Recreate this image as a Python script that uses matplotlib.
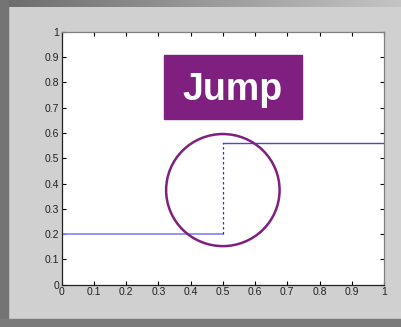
#!/usr/bin/env python3
import numpy as np
import matplotlib
matplotlib.use("Agg")
import matplotlib.pyplot as plt
from matplotlib.patches import Rectangle, Ellipse

# step data
jump_x = 0.5
low_x = [0.0, 0.5]
low_y = [0.2, 0.2]
high_x = [0.5, 1.0]
high_y = [0.56, 0.56]

# annotation box + circle around the jump
label = "Jump"
box_x, box_y, box_w, box_h = 0.317, 0.655, 0.428, 0.253
circle_center = (0.5, 0.374)
circle_size = (0.352, 0.443)

ticks = [0, 0.1, 0.2, 0.3, 0.4, 0.5, 0.6, 0.7, 0.8, 0.9, 1]
tick_labels = ["0", "0.1", "0.2", "0.3", "0.4", "0.5", "0.6", "0.7", "0.8", "0.9", "1"]

PURPLE = "#7f1f80"
W, H = 401, 327

plt.rcParams['font.family'] = ['Liberation Sans', 'DejaVu Sans']

fig = plt.figure(figsize=(W / 100, H / 100), dpi=100, facecolor="#d0d0d0")

# window frame: gradient strip on top, dark strips left and bottom
top = fig.add_axes([0, 1 - 7 / H, 1, 7 / H])
grad = np.linspace(0, 1, 256).reshape(1, -1)
top.imshow(grad, aspect="auto", cmap=matplotlib.colors.LinearSegmentedColormap.from_list(
    "g", ["#6c6c6c", "#c4c4c4"]), extent=[0, 1, 0, 1])
top.axis("off")
fig.add_artist(Rectangle((0, 0), 8 / W, 1, transform=fig.transFigure, color="#747474", zorder=5))
fig.add_artist(Rectangle((0, 0), 1, 8 / H, transform=fig.transFigure, color="#7a7a7a", zorder=5))

ax = fig.add_axes([61.7 / W, 42.3 / H, 322.3 / W, 253 / H])
ax.set_facecolor("white")

ax.plot(low_x, low_y, color="#8a8af2", lw=1.3)
ax.plot(high_x, high_y, color="#4646e0", lw=1.0)
ax.plot([jump_x, jump_x], [low_y[-1], high_y[0]], color="#3030e0", lw=0.9, ls=(0, (2, 2)))

ax.add_patch(Rectangle((box_x, box_y), box_w, box_h, color=PURPLE, zorder=3))
ax.text(box_x + box_w / 2, box_y + box_h / 2 - 0.01, label, color="white",
        fontsize=27, fontweight="bold", ha="center", va="center", zorder=4)
ax.add_patch(Ellipse(circle_center, *circle_size, fill=False, edgecolor=PURPLE, lw=1.8, zorder=4))

ax.set_xlim(0, 1)
ax.set_ylim(0, 1)
ax.set_xticks(ticks)
ax.set_xticklabels(tick_labels)
ax.set_yticks(ticks)
ax.set_yticklabels(tick_labels)
ax.tick_params(direction="in", length=3, width=0.8, top=True, right=True,
               labelsize=7.5, labelcolor="#222222", pad=2)
for side in ["left", "bottom"]:
    ax.spines[side].set_color("#222222")
for side in ["top", "right"]:
    ax.spines[side].set_color("#808080")
for s in ax.spines.values():
    s.set_linewidth(0.9)

fig.savefig("out.png", dpi=100, facecolor=fig.get_facecolor())
